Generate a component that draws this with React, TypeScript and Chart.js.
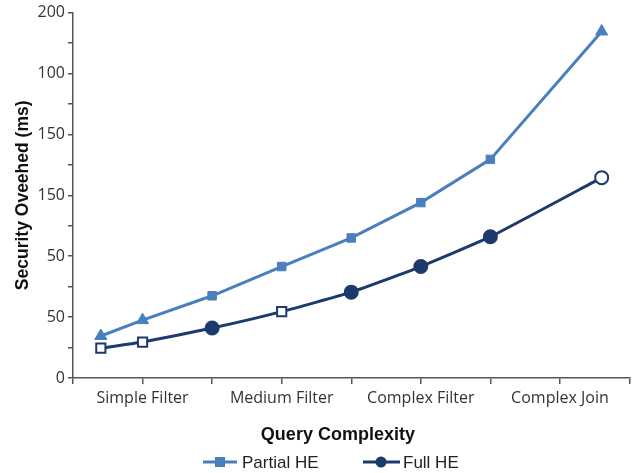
import React, { useEffect, useRef } from "react";
import { Chart, registerables } from "chart.js";

Chart.register(...registerables);

const categories = ["Simple Filter", "Medium Filter", "Complex Filter", "Complex Join"];
const categoryPositions = [1, 3, 5, 7];
const yTickLabels = ["0", "50", "50", "150", "150", "100", "200"];
const xPositions = [0.4, 1, 2, 3, 4, 5, 6, 7.6];
const partialHE = [34.5, 47.5, 67.5, 91.5, 115, 144, 179.5, 284.5];
const fullHE = [24.5, 29.5, 41, 54.5, 70.5, 91.5, 116, 164.5];
const partialStyles = ["triangle", "triangle", "rect", "rect", "rect", "rect", "rect", "triangle"];
const fullStyles = ["rect", "rect", "circle", "rect", "circle", "circle", "circle", "circle"];
const fullHollow = [true, true, false, true, false, false, false, true];

const PARTIAL = "#4a7fbe";
const FULL = "#1d3a6c";
const TICK_FONT = "'Open Sans', 'Noto Sans', sans-serif";
const BOLD_FONT = "'Liberation Sans', Arial, sans-serif";

const overlayPlugin = {
  id: "overlay",
  afterDraw(chart: any) {
    const ctx = chart.ctx;
    const area = chart.chartArea;
    ctx.save();
    ctx.fillStyle = "#111";
    ctx.font = `bold 17.5px ${BOLD_FONT}`;
    ctx.textAlign = "center";
    ctx.textBaseline = "middle";
    ctx.translate(23, (area.top + area.bottom) / 2);
    ctx.rotate(-Math.PI / 2);
    ctx.fillText("Security Oveehed (ms)", 0, 0);
    ctx.restore();

    ctx.save();
    ctx.fillStyle = "#111";
    ctx.font = `bold 18px ${BOLD_FONT}`;
    ctx.textAlign = "center";
    ctx.textBaseline = "middle";
    ctx.fillText("Query Complexity", area.left + (area.right - area.left) * 0.476, area.bottom + 57);

    const ly = area.bottom + 84;
    const items = [
      { label: "Partial HE", color: PARTIAL, style: "rect", x0: 203, x1: 237, mx: 220, tx: 242 },
      { label: "Full HE", color: FULL, style: "circle", x0: 363, x1: 400, mx: 381, tx: 403 },
    ];
    ctx.font = `17px ${BOLD_FONT}`;
    ctx.textAlign = "left";
    for (const it of items) {
      ctx.strokeStyle = it.color;
      ctx.fillStyle = it.color;
      ctx.lineWidth = 3;
      ctx.beginPath();
      ctx.moveTo(it.x0, ly);
      ctx.lineTo(it.x1, ly);
      ctx.stroke();
      if (it.style === "rect") {
        ctx.fillRect(it.mx - 5, ly - 5, 10, 10);
      } else {
        ctx.beginPath();
        ctx.arc(it.mx, ly, 5.5, 0, Math.PI * 2);
        ctx.fill();
      }
      ctx.fillStyle = "#222";
      ctx.fillText(it.label, it.tx, ly + 1);
    }
    ctx.restore();
  },
};

export default function App() {
  const ref = useRef<HTMLCanvasElement | null>(null);
  useEffect(() => {
    if (!ref.current) return;
    const chart = new Chart(ref.current, {
      type: "line",
      data: {
        datasets: [
          {
            label: "Partial HE",
            data: xPositions.map((x, i) => ({ x, y: partialHE[i] })),
            borderColor: PARTIAL,
            backgroundColor: PARTIAL,
            borderWidth: 3,
            pointStyle: partialStyles as any,
            pointRadius: partialStyles.map((s) => (s === "triangle" ? 7 : 6)),
            pointBackgroundColor: PARTIAL,
            pointBorderColor: PARTIAL,
            pointBorderWidth: 1,
            tension: 0,
          },
          {
            label: "Full HE",
            data: xPositions.map((x, i) => ({ x, y: fullHE[i] })),
            borderColor: FULL,
            backgroundColor: FULL,
            borderWidth: 3,
            pointStyle: fullStyles as any,
            pointRadius: 6.5,
            pointBackgroundColor: fullHollow.map((h) => (h ? "#ffffff" : FULL)),
            pointBorderColor: FULL,
            pointBorderWidth: 2,
            tension: 0.15,
          },
        ],
      },
      options: {
        animation: false,
        responsive: false,
        maintainAspectRatio: false,
        layout: { padding: { top: 0, right: 7, left: 0, bottom: 0 } },
        plugins: { legend: { display: false }, tooltip: { enabled: false } },
        scales: {
          x: {
            type: "linear",
            min: 0,
            max: 8,
            afterBuildTicks: (scale: any) => {
              scale.ticks = [0, 1, 2, 3, 4, 5, 6, 7, 8].map((v) => ({ value: v }));
            },
            afterFit: (scale: any) => {
              scale.height = 95;
            },
            border: { display: true, color: "#555", width: 1.5 },
            grid: { display: true, drawOnChartArea: false, drawTicks: true, tickLength: 6, color: "#555", lineWidth: 1.5 },
            ticks: {
              autoSkip: false,
              maxRotation: 0,
              padding: 5,
              color: "#333",
              font: { family: TICK_FONT, size: 16 },
              callback: (v: any) => {
                const idx = categoryPositions.indexOf(Number(v));
                return idx >= 0 ? categories[idx] : "";
              },
            },
          },
          y: {
            type: "linear",
            min: 0,
            max: 300,
            afterBuildTicks: (scale: any) => {
              const t = [];
              for (let v = 0; v <= 300; v += 25) t.push({ value: v });
              scale.ticks = t;
            },
            afterFit: (scale: any) => {
              scale.width = 73;
            },
            border: { display: true, color: "#555", width: 1.5 },
            grid: { display: true, drawOnChartArea: false, drawTicks: true, tickLength: 5, color: "#555", lineWidth: 1.5 },
            ticks: {
              autoSkip: false,
              padding: 3,
              color: "#333",
              font: { family: TICK_FONT, size: 16 },
              callback: (v: any) => {
                const n = Number(v);
                return n % 50 === 0 ? yTickLabels[n / 50] : "";
              },
            },
          },
        },
      },
      plugins: [overlayPlugin],
    } as any);
    return () => chart.destroy();
  }, []);
  return (
    <div style={{ position: "fixed", left: 0, top: 0, width: 638, height: 473, background: "#fff" }}>
      <canvas ref={ref} width={638} height={473} style={{ display: "block" }} />
    </div>
  );
}
